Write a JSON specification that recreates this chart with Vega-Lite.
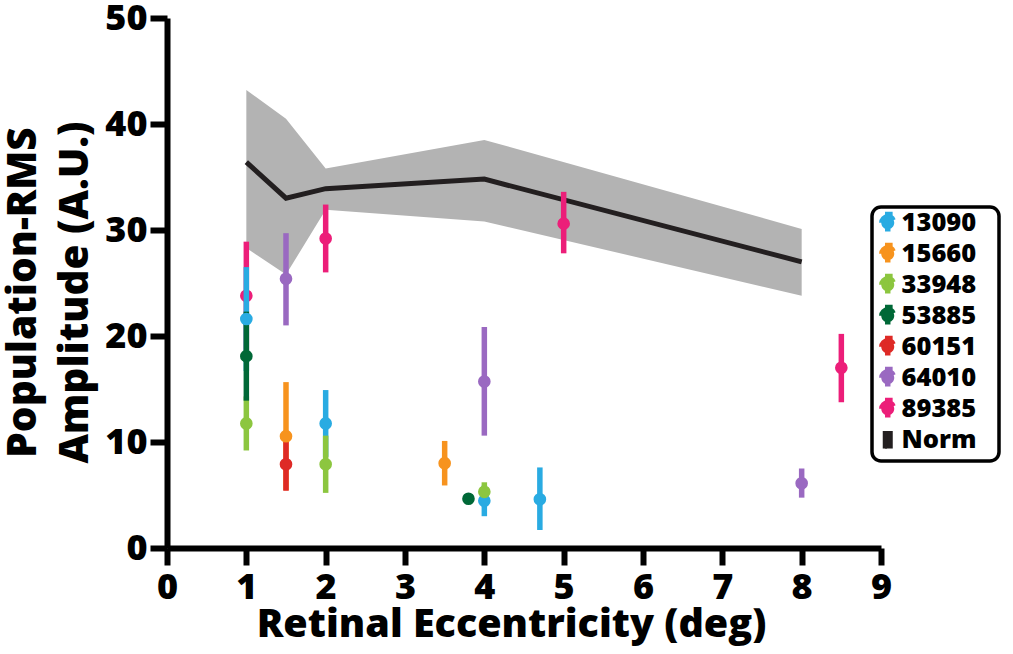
{
  "$schema": "https://vega.github.io/schema/vega-lite/v6.json",
  "width": 714,
  "height": 530,
  "autosize": {"type": "none"},
  "padding": {"left": 167, "top": 18, "right": 132, "bottom": 106},
  "config": {
    "view": {"stroke": null},
    "font": "Open Sans",
    "axis": {
      "grid": false,
      "domainColor": "black",
      "domainWidth": 6,
      "tickColor": "black",
      "tickWidth": 6,
      "tickSize": 17,
      "labelFont": "Open Sans",
      "labelFontSize": 36,
      "labelFontWeight": 800,
      "labelColor": "black",
      "labelOverlap": false,
      "labelFlush": false,
      "labelBound": false,
      "titleFont": "Open Sans",
      "titleFontSize": 39.5,
      "titleFontWeight": 800,
      "titleColor": "black"
    },
    "legend": {"strokeWidth": 3.5}
  },
  "datasets": {
    "norm": [
      {"ecc": 1, "mean": 36.4, "lo": 28.3, "hi": 43.2},
      {"ecc": 1.5, "mean": 33.0, "lo": 25.8, "hi": 40.5},
      {"ecc": 2, "mean": 33.9, "lo": 31.9, "hi": 35.8},
      {"ecc": 4, "mean": 34.8, "lo": 30.8, "hi": 38.5},
      {"ecc": 8, "mean": 27.0, "lo": 23.8, "hi": 30.1}
    ],
    "subjects": [
      {"subject": "89385", "ecc": 1, "amp": 23.8, "lo": 18.7, "hi": 28.9},
      {"subject": "89385", "ecc": 2, "amp": 29.2, "lo": 26.0, "hi": 32.4},
      {"subject": "89385", "ecc": 5, "amp": 30.6, "lo": 27.8, "hi": 33.6},
      {"subject": "89385", "ecc": 8.5, "amp": 17.0, "lo": 13.75, "hi": 20.2},
      {"subject": "13090", "ecc": 1, "amp": 21.6, "lo": 16.7, "hi": 26.5},
      {"subject": "13090", "ecc": 2, "amp": 11.75, "lo": 8.6, "hi": 14.9},
      {"subject": "13090", "ecc": 4, "amp": 4.45, "lo": 3.0, "hi": 5.9},
      {"subject": "13090", "ecc": 4.7, "amp": 4.6, "lo": 1.7, "hi": 7.6},
      {"subject": "15660", "ecc": 1.5, "amp": 10.55, "lo": 5.45, "hi": 15.65},
      {"subject": "15660", "ecc": 3.5, "amp": 8.0, "lo": 5.9, "hi": 10.1},
      {"subject": "33948", "ecc": 1, "amp": 11.75, "lo": 9.2, "hi": 14.3},
      {"subject": "33948", "ecc": 2, "amp": 7.9, "lo": 5.2, "hi": 10.6},
      {"subject": "33948", "ecc": 4, "amp": 5.3, "lo": 4.4, "hi": 6.2},
      {"subject": "53885", "ecc": 1, "amp": 18.1, "lo": 13.9, "hi": 22.3},
      {"subject": "53885", "ecc": 3.8, "amp": 4.65, "lo": 4.4, "hi": 4.9},
      {"subject": "60151", "ecc": 1.5, "amp": 7.9, "lo": 5.4, "hi": 10.4},
      {"subject": "64010", "ecc": 1.5, "amp": 25.4, "lo": 21.0, "hi": 29.7},
      {"subject": "64010", "ecc": 4, "amp": 15.7, "lo": 10.6, "hi": 20.85},
      {"subject": "64010", "ecc": 8, "amp": 6.1, "lo": 4.75, "hi": 7.5}
    ]
  },
  "layer": [
    {
      "data": {"name": "norm"},
      "mark": {"type": "area", "color": "#b3b3b3", "opacity": 1},
      "encoding": {
        "x": {
          "field": "ecc",
          "type": "quantitative",
          "scale": {"domain": [0, 9], "nice": false, "zero": false},
          "axis": {
            "values": [0, 1, 2, 3, 4, 5, 6, 7, 8, 9],
            "format": "d",
            "labelPadding": 5,
            "titleX": 344,
            "titleY": 57,
            "titleAlign": "center",
            "titleBaseline": "top"
          },
          "title": "Retinal Eccentricity (deg)"
        },
        "y": {
          "field": "lo",
          "type": "quantitative",
          "scale": {"domain": [0, 50], "nice": false},
          "axis": {
            "values": [0, 10, 20, 30, 40, 50],
            "format": "d",
            "labelPadding": 3,
            "titleX": -123,
            "titleY": 274,
            "titleAngle": -90,
            "titleAlign": "center",
            "titleBaseline": "bottom",
            "titleLineHeight": 52,
            "titleFontSize": 40.5
          },
          "title": ["Population-RMS", "Amplitude (A.U.)"]
        },
        "y2": {"field": "hi"}
      }
    },
    {
      "data": {"name": "norm"},
      "mark": {"type": "line", "color": "#231f20", "strokeWidth": 5},
      "encoding": {
        "x": {"field": "ecc", "type": "quantitative"},
        "y": {"field": "mean", "type": "quantitative"}
      }
    },
    {
      "data": {"name": "subjects"},
      "encoding": {
        "x": {"field": "ecc", "type": "quantitative"},
        "color": {
          "field": "subject",
          "type": "nominal",
          "scale": {
            "domain": ["13090", "15660", "33948", "53885", "60151", "64010", "89385", "Norm"],
            "range": ["#29abe2", "#f7931e", "#8cc63f", "#006837", "#de2a26", "#9a69c1", "#ec1e79", "#231f20"]
          },
          "legend": {
            "title": null,
            "orient": "none",
            "legendX": 705,
            "legendY": 189,
            "padding": 3,
            "rowPadding": -8,
            "cornerRadius": 9,
            "strokeColor": "black",
            "fillColor": "white",
            "labelFont": "Open Sans",
            "labelFontSize": 25.5,
            "labelFontWeight": 800,
            "labelColor": "black",
            "labelOffset": 1,
            "labelExpr": "datum.label + '\u2800'",
            "symbolSize": 169,
            "symbolOpacity": 1,
            "symbolType": "M-1,0A1,1 0 1 1 1,0A1,1 0 1 1 -1,0ZM-0.42,-1.35H0.42V1.35H-0.42Z",
            "encoding": {
              "legend": {"strokeWidth": {"value": 3.5}},
              "symbols": {
                "shape": {
                  "condition": {"test": "datum.value === 'Norm'", "value": "M-0.44,1.35V-1.35H0.77V1.35Z"},
                  "value": "M-1,0A1,1 0 1 1 1,0A1,1 0 1 1 -1,0ZM-0.42,-1.35H0.42V1.35H-0.42Z"
                },
                "stroke": {
                  "condition": {"test": "datum.value === 'Norm'", "value": "#b3b3b3"},
                  "value": "transparent"
                },
                "strokeWidth": {"value": 4.3},
                "strokeDash": {"value": [17.55, 60]}
              }
            }
          }
        }
      },
      "layer": [
        {
          "transform": [{"filter": "datum.subject === '89385'"}],
          "mark": {"type": "rule", "strokeWidth": 5.5},
          "encoding": {
            "y": {"field": "lo", "type": "quantitative"},
            "y2": {"field": "hi"}
          }
        },
        {
          "transform": [{"filter": "datum.subject === '89385'"}],
          "mark": {"type": "point", "shape": "circle", "filled": true, "size": 160, "opacity": 1},
          "encoding": {
            "y": {"field": "amp", "type": "quantitative"}
          }
        },
        {
          "transform": [{"filter": "datum.subject !== '89385'"}],
          "mark": {"type": "rule", "strokeWidth": 5.5},
          "encoding": {
            "y": {"field": "lo", "type": "quantitative"},
            "y2": {"field": "hi"}
          }
        },
        {
          "transform": [{"filter": "datum.subject !== '89385'"}],
          "mark": {"type": "point", "shape": "circle", "filled": true, "size": 160, "opacity": 1},
          "encoding": {
            "y": {"field": "amp", "type": "quantitative"}
          }
        }
      ]
    }
  ]
}
